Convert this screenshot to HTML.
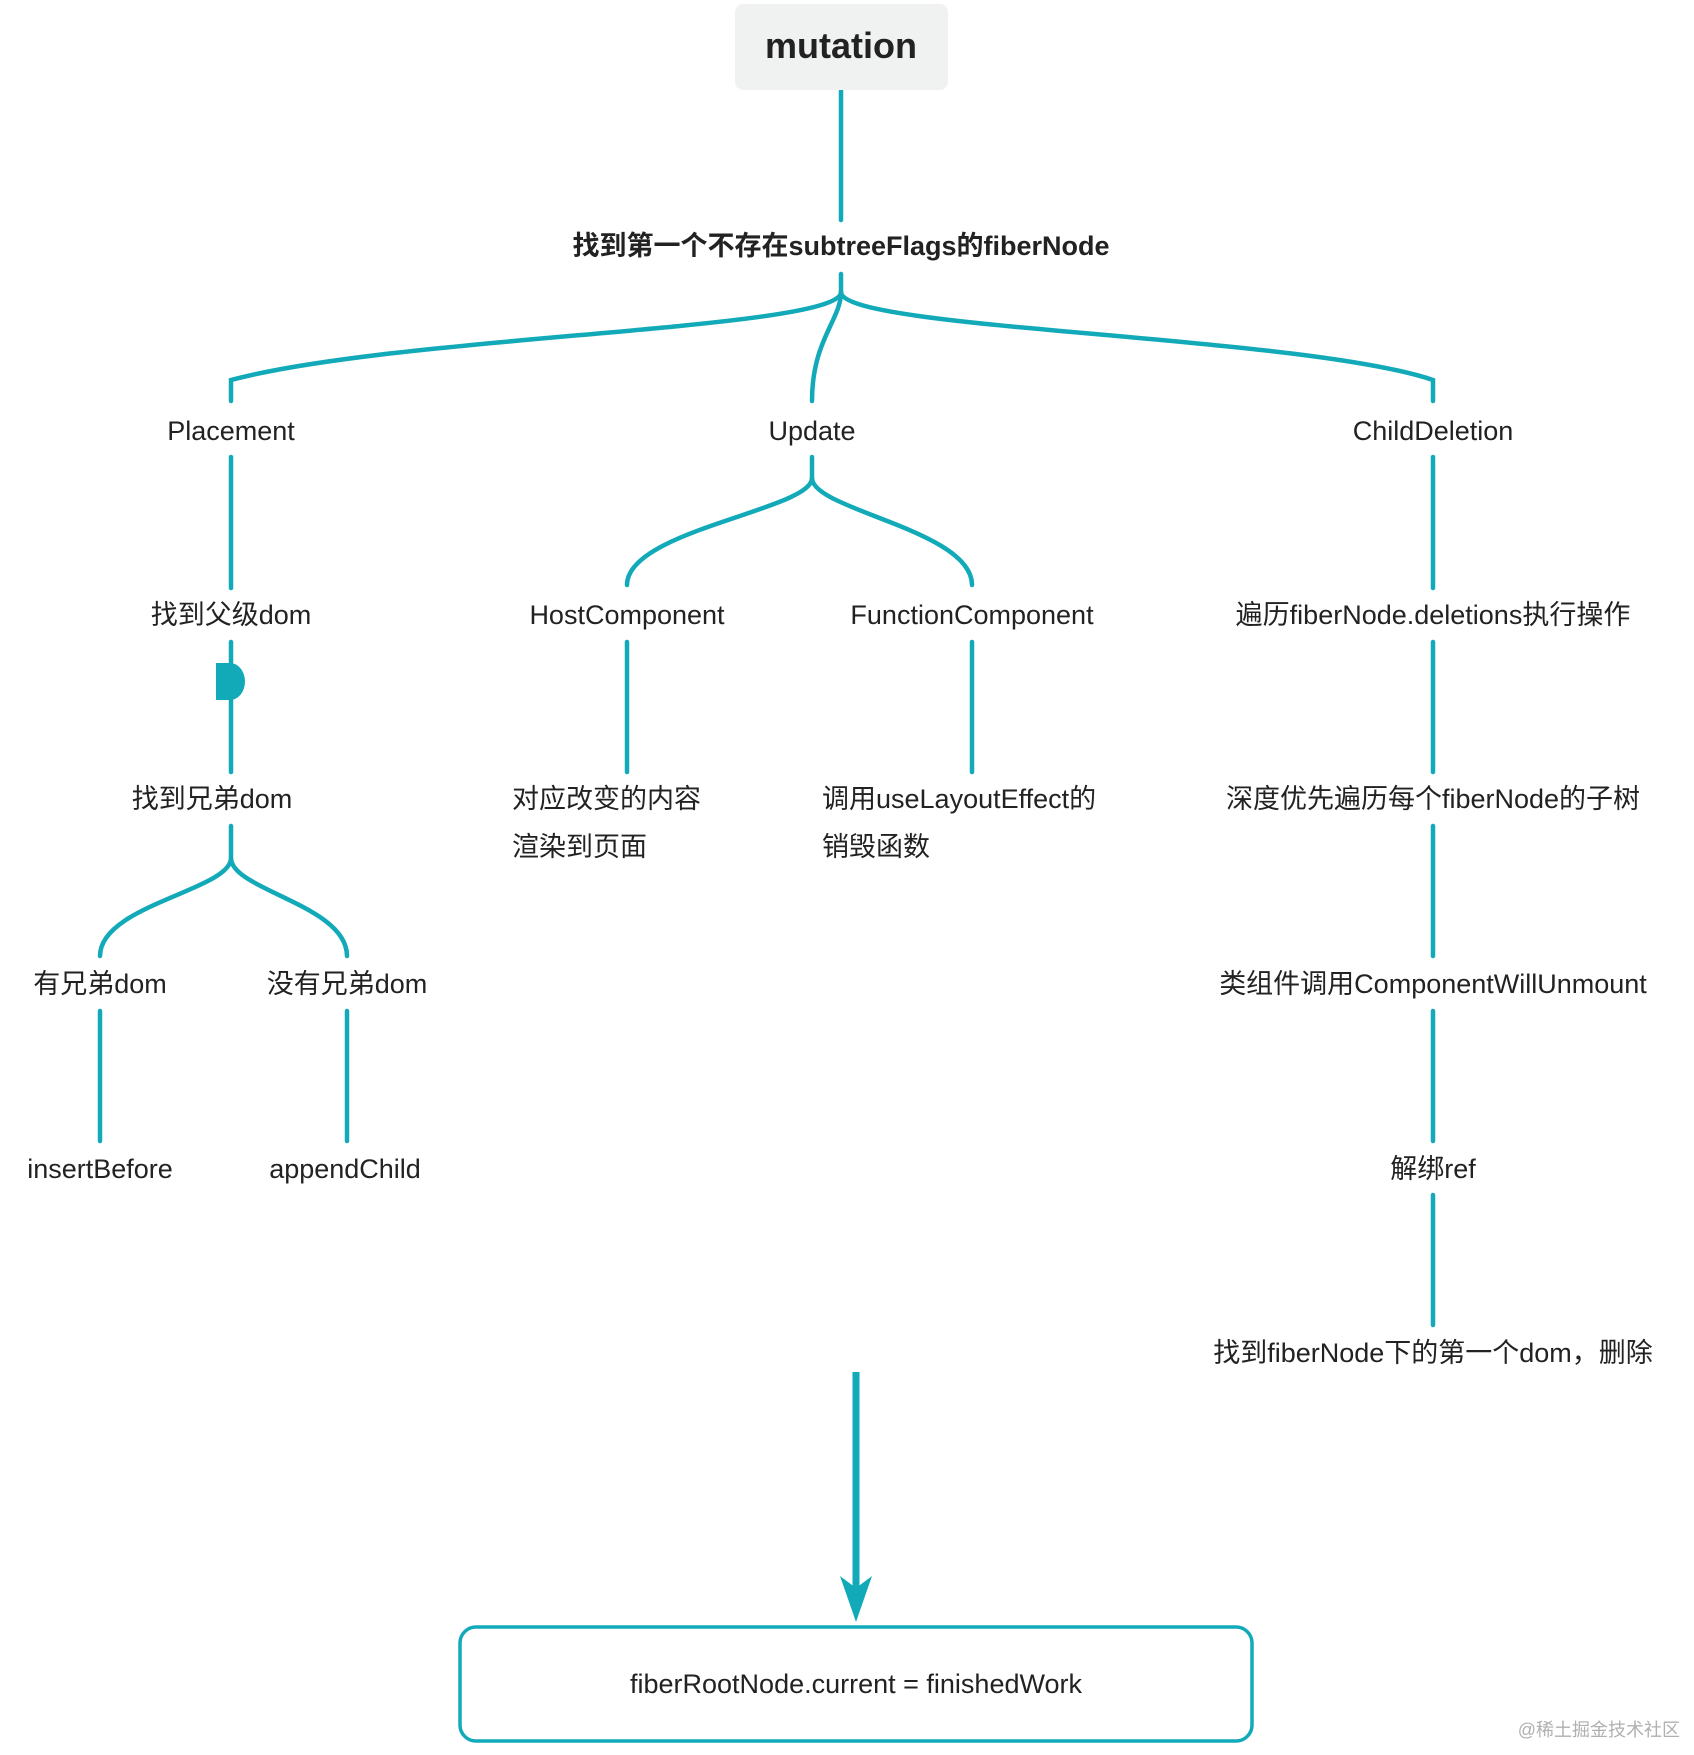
<!DOCTYPE html>
<html><head><meta charset="utf-8"><style>
html,body{margin:0;padding:0;background:#fff;}
svg{display:block}
text{font-family:"Liberation Sans","Noto Sans CJK SC",sans-serif;fill:#222;}
</style></head><body>
<svg width="1694" height="1755" viewBox="0 0 1694 1755" xmlns="http://www.w3.org/2000/svg">
<g fill="none" stroke="#12aab8" stroke-width="4.5" stroke-linecap="round">
<line x1="841" y1="91" x2="841" y2="220"/>
<path d="M841 274 V292 C841 330 400 335 231 380 V401"/>
<path d="M841 292 C841 320 812 340 812 401"/>
<path d="M841 292 C841 330 1300 335 1433 380 V401"/>
<line x1="231" y1="457" x2="231" y2="588"/>
<path d="M812 457 V478 C812 510 627 530 627 585"/>
<path d="M812 478 C812 510 972 530 972 585"/>
<line x1="1433" y1="457" x2="1433" y2="588"/>
<line x1="231" y1="642" x2="231" y2="772"/>
<line x1="627" y1="642" x2="627" y2="772"/>
<line x1="972" y1="642" x2="972" y2="772"/>
<line x1="1433" y1="642" x2="1433" y2="772"/>
<path d="M231 826 V858 C231 890 100 905 100 956"/>
<path d="M231 858 C231 890 347 905 347 956"/>
<line x1="1433" y1="826" x2="1433" y2="956"/>
<line x1="100" y1="1011" x2="100" y2="1141"/>
<line x1="347" y1="1011" x2="347" y2="1141"/>
<line x1="1433" y1="1011" x2="1433" y2="1141"/>
<line x1="1433" y1="1195" x2="1433" y2="1325"/>
</g>
<path d="M216 663 H230 A15 18.5 0 0 1 230 700 H216 Z" fill="#12aab8"/>
<line x1="856" y1="1372" x2="856" y2="1590" stroke="#12aab8" stroke-width="7"/>
<path d="M840 1576 L856 1588 L872 1576 L856 1622 Z" fill="#12aab8"/>
<rect x="735" y="4" width="213" height="86" rx="8" fill="#f0f1f1"/>
<text x="841" y="58" font-size="36" text-anchor="middle" font-weight="bold" style="font-weight:600">mutation</text>
<rect x="460" y="1627" width="792" height="114" rx="16" fill="none" stroke="#12aab8" stroke-width="3.5"/>
<g font-size="27" text-anchor="middle">
<text x="841" y="255" font-weight="bold">找到第一个不存在subtreeFlags的fiberNode</text>
<text x="231" y="440">Placement</text>
<text x="812" y="440">Update</text>
<text x="1433" y="440">ChildDeletion</text>
<text x="231" y="624">找到父级dom</text>
<text x="627" y="624">HostComponent</text>
<text x="972" y="624">FunctionComponent</text>
<text x="1433" y="624">遍历fiberNode.deletions执行操作</text>
<text x="212" y="808">找到兄弟dom</text>
<text x="1433" y="808">深度优先遍历每个fiberNode的子树</text>
<text x="100" y="993">有兄弟dom</text>
<text x="347" y="993">没有兄弟dom</text>
<text x="1433" y="993">类组件调用ComponentWillUnmount</text>
<text x="100" y="1178">insertBefore</text>
<text x="345" y="1178">appendChild</text>
<text x="1433" y="1178">解绑ref</text>
<text x="1433" y="1362">找到fiberNode下的第一个dom，删除</text>
<text x="856" y="1693">fiberRootNode.current = finishedWork</text>
</g>
<g font-size="27" text-anchor="start">
<text x="512" y="808">对应改变的内容</text>
<text x="512" y="856">渲染到页面</text>
<text x="822" y="808">调用useLayoutEffect的</text>
<text x="822" y="856">销毁函数</text>
</g>
<text x="1680" y="1736" font-size="18" text-anchor="end" style="fill:#b0b0b0">@稀土掘金技术社区</text>
</svg>
</body></html>
